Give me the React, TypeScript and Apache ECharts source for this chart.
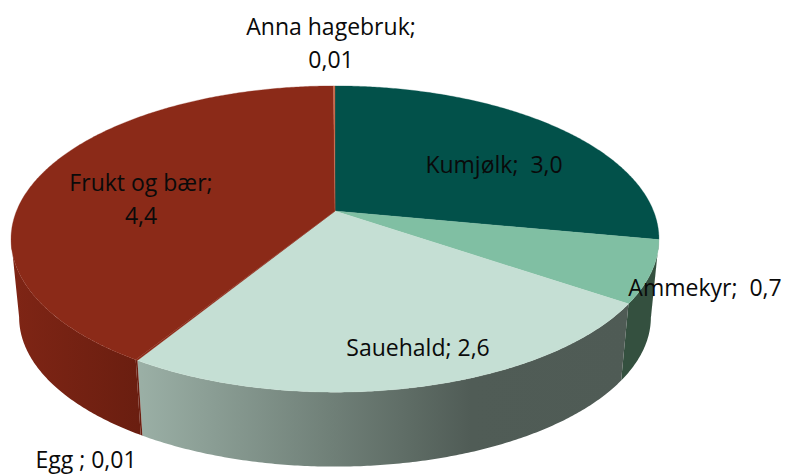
import React, { useEffect, useRef } from "react";
import * as echarts from "echarts";

const categories = ["Kumjølk", "Ammekyr", "Sauehald", "Egg", "Frukt og bær", "Anna hagebruk"];
const values = [3.0, 0.7, 2.6, 0.01, 4.4, 0.01];
const labelLines = [
  ["Kumjølk;  3,0"],
  ["Ammekyr;  0,7"],
  ["Sauehald; 2,6"],
  ["Egg ; 0,01"],
  ["Frukt og bær;", "4,4"],
  ["Anna hagebruk;", "0,01"],
];
const topColors = ["#02514A", "#80BFA3", "#C5DFD4", "#8B2A18", "#8B2A18", "#C96A4A"];

const labelAt = [
  [494, 164],
  [705, 287],
  [418, 347],
  [86, 459],
  [141, 182],
  [331, 26],
];

const sideFill = (i: number): any => {
  if (i === 2)
    return new echarts.graphic.LinearGradient(0, 0, 1, 0, [
      { offset: 0, color: "#9BB0A6" },
      { offset: 0.4, color: "#6F7F77" },
      { offset: 0.68, color: "#505C56" },
      { offset: 1, color: "#4F5B55" },
    ]);
  if (i === 4)
    return new echarts.graphic.LinearGradient(0, 0, 1, 0, [
      { offset: 0, color: "#7F2515" },
      { offset: 1, color: "#6A1E10" },
    ]);
  if (i === 3) return "#6A1E10";
  return "#34503F";
};

const total = values.reduce((a, b) => a + b, 0);
const startDeg = (i: number) => (values.slice(0, i).reduce((a, b) => a + b, 0) / total) * 360;

// Perspective projection of the pie disc
const AX = 335, AY = 211, A = 318.5, B = 148, K = 0.183;
const project = (deg: number, scale = 1, dy = 0): number[] => {
  const t = (deg * Math.PI) / 180;
  const u = Math.sin(t), v = -Math.cos(t), w = 1 - K * v;
  return [AX + (scale * A * u) / w, AY + dy + (scale * B * v) / w];
};
const rim = (from: number, to: number, scale = 1, dy = 0): number[][] => {
  const n = Math.max(2, Math.ceil(Math.abs(to - from) / 0.5));
  const pts: number[][] = [];
  for (let k = 0; k <= n; k++) pts.push(project(from + ((to - from) * k) / n, scale, dy));
  return pts;
};
const VIS_FROM = 100.5, VIS_TO = 259.5, BASE_SCALE = 0.975, BASE_DY = 79;

const FONT = '"Open Sans", sans-serif';

const App = () => {
  const ref = useRef<HTMLDivElement>(null);
  useEffect(() => {
    document.body.style.margin = "0";
    const chart = echarts.init(ref.current!, null, { renderer: "svg" });
    const data = values.map((v, i) => ({ name: categories[i], value: [v] }));
    chart.setOption({
      animation: false,
      tooltip: { show: false },
      series: [
        {
          type: "custom",
          coordinateSystem: "none",
          z: 1,
          silent: true,
          data,
          renderItem: (params: any) => {
            const i = params.dataIndex;
            const from = Math.max(startDeg(i), VIS_FROM);
            const to = Math.min(startDeg(i + 1), VIS_TO);
            if (to <= from) return { type: "group", children: [] };
            const pts = [...rim(from, to), ...rim(from, to, BASE_SCALE, BASE_DY).reverse()];
            const fill = sideFill(i);
            return { type: "polygon", shape: { points: pts }, style: { fill, stroke: null } };
          },
        },
        {
          type: "custom",
          coordinateSystem: "none",
          z: 2,
          silent: true,
          data,
          renderItem: (params: any) => {
            const i = params.dataIndex;
            const pts = [[AX, AY], ...rim(startDeg(i), startDeg(i + 1))];
            return {
              type: "polygon",
              shape: { points: pts },
              style: { fill: topColors[i], stroke: topColors[i], lineWidth: 0.3 },
            };
          },
        },
        {
          type: "custom",
          coordinateSystem: "none",
          z: 3,
          silent: true,
          data,
          renderItem: (params: any) => {
            const i = params.dataIndex;
            const lines = labelLines[i];
            return {
              type: "group",
              children: lines.map((t, k) => ({
                type: "text",
                x: labelAt[i][0],
                y: labelAt[i][1] + k * 33,
                style: {
                  text: t,
                  fill: "#0A0A0A",
                  font: `23px ${FONT}`,
                  align: "center",
                  verticalAlign: "middle",
                },
              })),
            };
          },
        },
      ],
    });
    return () => chart.dispose();
  }, []);
  return <div ref={ref} style={{ position: "absolute", left: 0, top: 0, width: 787, height: 475 }} />;
};

export default App;
